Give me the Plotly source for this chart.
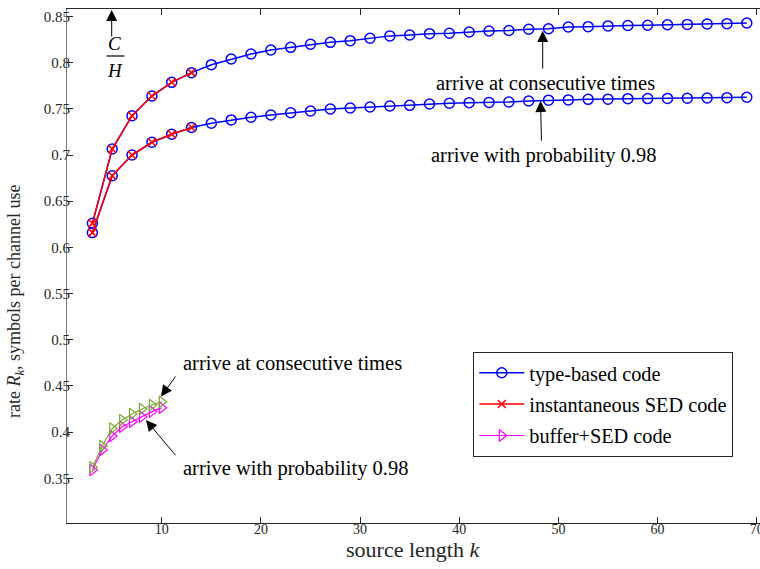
import plotly.graph_objects as go

# ---------------- data ----------------
k_type = list(range(3, 70, 2))
rate_type_consecutive = [0.626, 0.7065, 0.7426, 0.7639, 0.7787, 0.7892, 0.7978, 0.804, 0.8094,
                         0.8137, 0.8166, 0.8199, 0.822, 0.8238, 0.8264, 0.829, 0.830, 0.8314,
                         0.8318, 0.8332, 0.8343, 0.8348, 0.8362, 0.8367, 0.8386, 0.839, 0.8398,
                         0.8402, 0.8405, 0.8411, 0.8414, 0.8419, 0.8422, 0.843]
rate_type_prob = [0.616, 0.6776, 0.700, 0.7138, 0.7225, 0.7298, 0.7344, 0.738, 0.7409,
                  0.7433, 0.7458, 0.7477, 0.7498, 0.7509, 0.752, 0.7531, 0.7538, 0.7553,
                  0.756, 0.7567, 0.757, 0.7574, 0.7585, 0.7594, 0.7597, 0.7603, 0.7605,
                  0.761, 0.7611, 0.7613, 0.7615, 0.7618, 0.7621, 0.7625]

k_sed = [3, 5, 7, 9, 11, 13]
rate_sed_consecutive = [0.626, 0.7065, 0.7426, 0.7639, 0.7787, 0.7892]
rate_sed_prob = [0.616, 0.6776, 0.700, 0.7138, 0.7225, 0.7298]

k_buf = [3, 4, 5, 6, 7, 8, 9, 10]
rate_buf_prob = [0.359, 0.3807, 0.3958, 0.4059, 0.4113, 0.4167, 0.4222, 0.4264]
rate_buf_consecutive = [0.3619, 0.385, 0.404, 0.4131, 0.4196, 0.425, 0.4293, 0.4329]

y_ticks = [0.35, 0.4, 0.45, 0.5, 0.55, 0.6, 0.65, 0.7, 0.75, 0.8, 0.85]
x_ticks = [10, 20, 30, 40, 50, 60, 70]

x_title = "source length <i>k</i>"
y_title = "rate <i>R</i><sub><i>k</i></sub>, symbols per channel use"

BLUE = "#0000FF"
RED = "#FF0000"
MAGENTA = "#FF00FF"
GREEN = "#77AC30"
SERIF = "Liberation Serif, Times New Roman, serif"

W, H = 760, 569
L, R, T, B = 67, 0, 9, 46

fig = go.Figure()

for i, ys in enumerate([rate_type_consecutive, rate_type_prob]):
    fig.add_trace(go.Scatter(
        x=k_type, y=ys, mode="lines+markers", name="type-based code",
        legendgroup="type", showlegend=(i == 0),
        line=dict(color=BLUE, width=1.5),
        marker=dict(symbol="circle-open", size=10, color=BLUE, line=dict(width=1.5)),
    ))
for i, ys in enumerate([rate_sed_consecutive, rate_sed_prob]):
    fig.add_trace(go.Scatter(
        x=k_sed, y=ys, mode="lines+markers", name="instantaneous SED code",
        legendgroup="sed", showlegend=(i == 0),
        line=dict(color=RED, width=1.5),
        marker=dict(symbol="x-thin-open", size=8, color=RED, line=dict(width=1.5, color=RED)),
    ))
fig.add_trace(go.Scatter(
    x=k_buf, y=rate_buf_prob, mode="lines+markers", name="buffer+SED code",
    legendgroup="buf", showlegend=True,
    line=dict(color=MAGENTA, width=1.2),
    marker=dict(symbol="triangle-right-open", size=10, color=MAGENTA, line=dict(width=1.2)),
))
fig.add_trace(go.Scatter(
    x=k_buf, y=rate_buf_consecutive, mode="lines+markers", name="buffer+SED code (consecutive)",
    legendgroup="buf", showlegend=False,
    line=dict(color=GREEN, width=1.2),
    marker=dict(symbol="triangle-right-open", size=10, color=GREEN, line=dict(width=1.2)),
))


def pp(px, py):
    """pixel position in the picture -> paper coordinates of the plot area"""
    pw = W - L - R
    ph = H - T - B
    return (px - L) / pw, (H - B - py) / ph


annotations = []


def arrow(tip, tail):
    x, y = pp(*tip)
    annotations.append(dict(
        x=x, y=y, xref="paper", yref="paper", text="", showarrow=True,
        ax=tail[0] - tip[0], ay=tail[1] - tip[1],
        arrowhead=2, arrowsize=2.2, arrowwidth=1.0, arrowcolor="black",
    ))


def label(text, px, py, xanchor="center", size=20.5, color="black", angle=0):
    x, y = pp(px, py)
    annotations.append(dict(
        x=x, y=y, xref="paper", yref="paper", text=text, showarrow=False,
        xanchor=xanchor, yanchor="middle", textangle=angle,
        font=dict(family=SERIF, size=size, color=color),
    ))


arrow((111.7, 10), (111.7, 38))
arrow((542.7, 31), (542.7, 70))
arrow((540.5, 101), (541.5, 142))
arrow((161, 396.5), (176.7, 375))
arrow((146, 420), (176.7, 456.7))

label("arrive at consecutive times", 545, 82.5)
label("arrive with probability 0.98", 543, 155)
label("arrive at consecutive times", 181, 363, xanchor="left")
label("arrive with probability 0.98", 181, 468, xanchor="left")
label("<i>C</i>", 114.5, 43.5, size=19)
label("<i>H</i>", 115, 70, size=19)

# axis titles
label(x_title, 412.5, 549, size=22, color="#262626")
label(y_title, 15, 301, size=18, color="#262626", angle=-90)

bx0, by = pp(106.5, 56)
bx1, _ = pp(124.5, 56)

fig.update_layout(
    width=W, height=H,
    margin=dict(l=L, r=R, t=T, b=B, pad=0, autoexpand=False),
    paper_bgcolor="white", plot_bgcolor="white",
    font=dict(family=SERIF, color="#262626"),
    annotations=annotations,
    hovermode=False,
    shapes=[dict(type="line", xref="paper", yref="paper", x0=bx0, x1=bx1, y0=by, y1=by,
                 line=dict(color="black", width=1.2))],
    legend=dict(
        x=pp(473.3, 0)[0], y=pp(0, 352)[1], xanchor="left", yanchor="top",
        bgcolor="white", bordercolor="#262626", borderwidth=1,
        font=dict(family=SERIF, size=20.3, color="black"),
        itemwidth=45, traceorder="grouped", tracegroupgap=2,
    ),
    showlegend=True,
)

fig.update_xaxes(
    range=[0.44, 70.33], tickvals=x_ticks, ticktext=[str(v) for v in x_ticks],
    automargin=False,
    ticks="inside", ticklen=6, tickwidth=1, tickcolor="#262626",
    showline=True, linecolor="#262626", linewidth=1, mirror="ticks",
    showgrid=False, zeroline=False, ticklabelstandoff=-7, ticklabeloverflow="allow",
    tickfont=dict(family=SERIF, size=14, color="#262626"),
)
fig.update_yaxes(
    range=[0.3016, 0.8581], tickvals=y_ticks, ticktext=[f"{v:g}" for v in y_ticks],
    automargin=False,
    ticks="inside", ticklen=6, tickwidth=1, tickcolor="#262626",
    showline=True, linecolor="#7a7a7a", linewidth=1, mirror=False,
    showgrid=False, zeroline=False, ticklabelstandoff=-7,
    tickfont=dict(family=SERIF, size=15, color="#262626"),
)

fig.write_html("out.html",
               config={"displayModeBar": False},
               post_script="document.documentElement.style.overflow='hidden';"
                           "document.body.style.margin='0';document.body.style.overflow='hidden';")
